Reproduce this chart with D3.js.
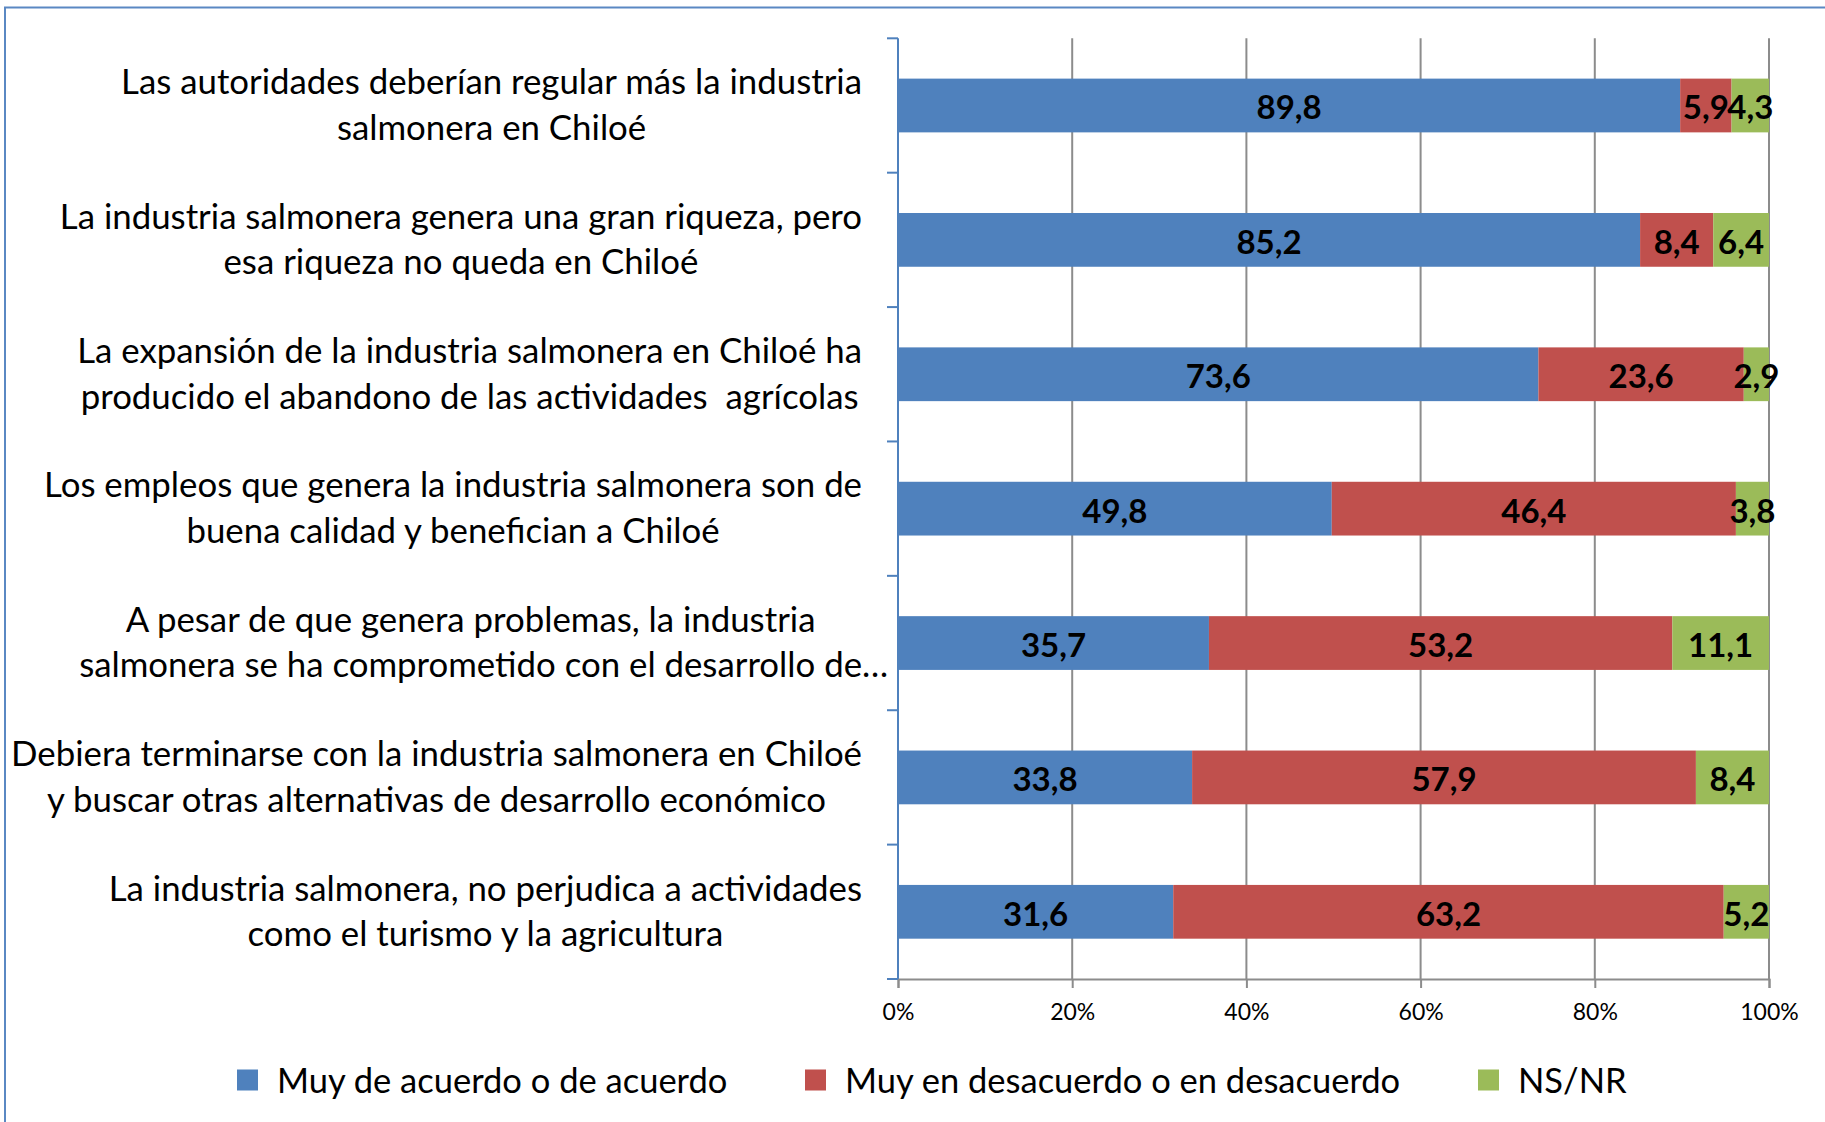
<!DOCTYPE html>
<html>
<head>
<meta charset="utf-8">
<script src="https://cdn.jsdelivr.net/npm/d3@7/dist/d3.min.js"></script>
<style>
  html, body { margin: 0; padding: 0; background: #fff; }
  svg { display: block; font-family: Lato, "Open Sans", sans-serif; }
</style>
</head>
<body>
<svg id="chart" width="1825" height="1122"></svg>
<script>
// Survey statements (one entry per row, lines already broken)
const categories = [
  ["Las autoridades deberían regular más la industria", "salmonera en Chiloé"],
  ["La industria salmonera genera una gran riqueza, pero", "esa riqueza no queda en Chiloé"],
  ["La expansión de la industria salmonera en Chiloé ha", "producido el abandono de las actividades  agrícolas"],
  ["Los empleos que genera la industria salmonera son de", "buena calidad y benefician a Chiloé"],
  ["A pesar de que genera problemas, la industria", "salmonera se ha comprometido con el desarrollo de…"],
  ["Debiera terminarse con la industria salmonera en Chiloé", "y buscar otras alternativas de desarrollo económico"],
  ["La industria salmonera, no perjudica a actividades", "como el turismo y la agricultura"]
];

const seriesNames = ["Muy de acuerdo o de acuerdo", "Muy en desacuerdo o en desacuerdo", "NS/NR"];

// Percentages per statement, same order as categories
const acuerdo    = [89.8, 85.2, 73.6, 49.8, 35.7, 33.8, 31.6];
const desacuerdo = [5.9, 8.4, 23.6, 46.4, 53.2, 57.9, 63.2];
const nsnr       = [4.3, 6.4, 2.9, 3.8, 11.1, 8.4, 5.2];

const tickValues = [0, 0.2, 0.4, 0.6, 0.8, 1];

const colors = ["#4f81bd", "#c0504d", "#9bbb59"];

const svg = d3.select("#chart");

// Outer chart frame
svg.append("rect")
  .attr("x", 5).attr("y", 7.5)
  .attr("width", 1900).attr("height", 1200)
  .attr("fill", "none")
  .attr("stroke", "#5a88c3")
  .attr("stroke-width", 2);

const plot = { left: 898, right: 1769, top: 38.3, bottom: 979 };

const rows = categories.map((c, i) => ({
  key: i, lines: c, a: acuerdo[i], d: desacuerdo[i], n: nsnr[i]
}));

const stack = d3.stack()
  .keys(["a", "d", "n"])
  .offset(d3.stackOffsetExpand);
const stacked = stack(rows);

const x = d3.scaleLinear().domain([0, 1]).range([plot.left, plot.right]);
const y = d3.scaleBand()
  .domain(rows.map(r => r.key))
  .range([plot.top, plot.bottom])
  .paddingInner(0.6)
  .paddingOuter(0.3);

// Vertical gridlines
svg.append("g")
  .selectAll("line")
  .data(tickValues.slice(1))
  .join("line")
  .attr("x1", d => x(d)).attr("x2", d => x(d))
  .attr("y1", plot.top).attr("y2", plot.bottom)
  .attr("stroke", "#8c8c8c")
  .attr("stroke-width", 2);

// Bottom axis
const xAxis = d3.axisBottom(x)
  .tickValues(tickValues)
  .tickFormat(d => Math.round(d * 100) + "%")
  .tickSize(9)
  .tickPadding(16);
const gx = svg.append("g")
  .attr("transform", `translate(0,${plot.bottom})`)
  .call(xAxis);
gx.select(".domain").attr("stroke", "#8c8c8c").attr("stroke-width", 2);
gx.selectAll(".tick line").attr("stroke", "#8c8c8c").attr("stroke-width", 2);
gx.selectAll(".tick text")
  .attr("fill", "#000")
  .style("font-family", "Lato, sans-serif")
  .style("font-size", "23px");

// Bars
svg.append("g")
  .selectAll("g")
  .data(stacked)
  .join("g")
  .attr("fill", (d, i) => colors[i])
  .selectAll("rect")
  .data(d => d)
  .join("rect")
  .attr("x", d => x(d[0]))
  .attr("width", d => x(d[1]) - x(d[0]))
  .attr("y", d => y(d.data.key))
  .attr("height", y.bandwidth());

// Left category axis (boundaries between statements)
const bounds = d3.range(rows.length + 1).map(i => plot.top + i * y.step());
svg.append("line")
  .attr("x1", plot.left).attr("x2", plot.left)
  .attr("y1", plot.top).attr("y2", plot.bottom)
  .attr("stroke", "#4f81bd").attr("stroke-width", 2);
svg.append("g")
  .selectAll("line")
  .data(bounds)
  .join("line")
  .attr("x1", plot.left - 11).attr("x2", plot.left)
  .attr("y1", d => d).attr("y2", d => d)
  .attr("stroke", "#4f81bd").attr("stroke-width", 2);

// Value labels
const keysVals = ["a", "d", "n"];
svg.append("g")
  .selectAll("g")
  .data(stacked)
  .join("g")
  .selectAll("text")
  .data((s, si) => s.map(d => ({ d, v: d.data[keysVals[si]] })))
  .join("text")
  .attr("x", o => (x(o.d[0]) + x(o.d[1])) / 2)
  .attr("y", o => y(o.d.data.key) + y.bandwidth() / 2 + 1)
  .attr("text-anchor", "middle")
  .attr("dominant-baseline", "central")
  .style("font-weight", "bold")
  .style("font-size", "33px")
  .attr("fill", "#000")
  .text(o => d3.format(".1f")(o.v).replace(".", ","));

// Category labels: each block right-aligned against the axis, lines centred
const labelRight = 862;
const lineGap = 45.5;
const labels = svg.append("g")
  .style("font-size", "34.8px")
  .attr("fill", "#000");
rows.forEach(r => {
  const g = labels.append("g");
  const cy = y(r.key) + y.bandwidth() / 2 - 2;
  const nodes = r.lines.map((t, li) => g.append("text")
    .attr("y", cy + (li - (r.lines.length - 1) / 2) * lineGap)
    .attr("dominant-baseline", "central")
    .style("white-space", "pre")
    .text(t));
  // width without a trailing ellipsis (it hangs outside the box)
  const widths = nodes.map(n => {
    const t = n.text();
    if (t.endsWith("…")) {
      n.text(t.slice(0, -1));
      const w = n.node().getComputedTextLength();
      n.text(t);
      return w;
    }
    return n.node().getComputedTextLength();
  });
  const boxW = d3.max(widths);
  const cx = labelRight - boxW / 2;
  nodes.forEach((n, i) => n.attr("x", cx - widths[i] / 2));
});

// Legend
const legendItems = [
  { name: seriesNames[0], color: colors[0], x: 237 },
  { name: seriesNames[1], color: colors[1], x: 805 },
  { name: seriesNames[2], color: colors[2], x: 1478 }
];
const lg = svg.append("g");
legendItems.forEach(it => {
  lg.append("rect")
    .attr("x", it.x).attr("y", 1069.5)
    .attr("width", 21).attr("height", 21)
    .attr("fill", it.color);
  lg.append("text")
    .attr("x", it.x + 40).attr("y", 1079.5)
    .attr("dominant-baseline", "central")
    .style("font-size", "34.5px")
    .attr("fill", "#000")
    .text(it.name);
});
</script>
</body>
</html>
